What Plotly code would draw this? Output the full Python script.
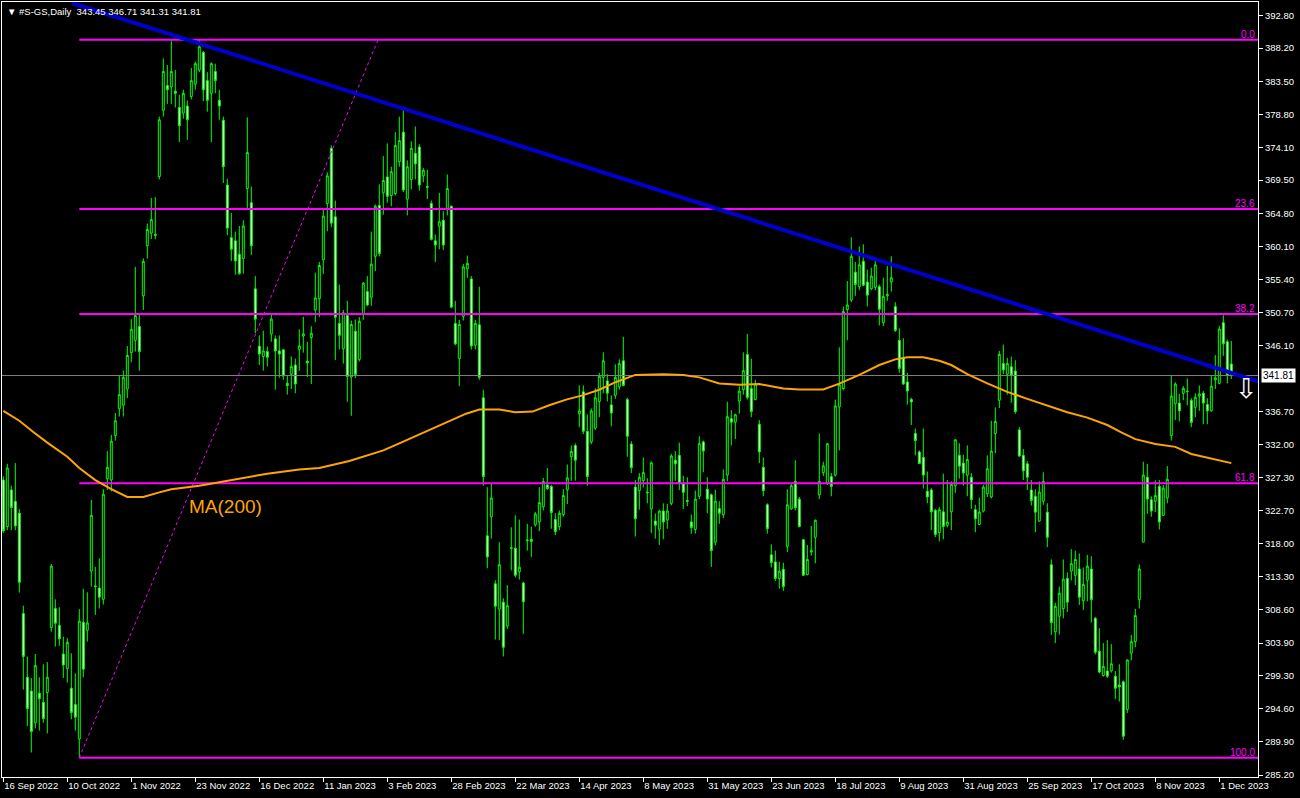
import plotly.graph_objects as go

# ---------------- data ----------------
open_ = [327.0, 320.4, 325.6, 324.0, 322.3, 308.1, 299.05, 297.1, 292.6, 296.8,
         295.5, 296.9, 306.1, 308.8, 306.4, 302.35, 300.3, 297.5, 295.2, 290.3,
         306.85, 305.7, 314.1, 312.0, 311.7, 310.1, 327.2, 327.0, 333.3, 337.1,
         337.6, 339.9, 345.05, 346.8, 348.75, 353.1, 360.2, 362.0, 361.8, 370.0,
         379.4, 382.9, 382.7, 382.1, 379.8, 379.0, 380.0, 381.35, 383.1, 385.1,
         387.6, 383.6, 381.8, 384.9, 380.8, 378.0, 368.8, 361.35, 360.9, 359.0,
         358.4, 368.3, 366.3, 354.1, 345.97, 344.5, 345.2, 347.7, 347.0, 345.3,
         345.45, 340.7, 342.0, 343.3, 345.5, 347.4, 343.85, 347.2, 351.1, 352.7,
         358.2, 366.2, 374.0, 364.3, 349.2, 345.6, 350.3, 341.6, 348.1, 344.1,
         350.5, 353.7, 352.9, 358.7, 365.9, 367.7, 369.95, 367.3, 367.6, 372.1,
         376.3, 366.8, 369.6, 373.3, 374.2, 370.1, 368.6, 366.2, 360.9, 362.96,
         363.8, 365.5, 365.8, 349.2, 344.2, 350.2, 356.9, 355.5, 346.1, 349.0,
         338.66, 319.1, 321.8, 312.3, 308.7, 309.7, 306.3, 317.3, 317.35, 314.0,
         312.4, 318.4, 318.6, 320.65, 321.05, 323.2, 326.3, 326.1, 321.4, 320.4,
         322.1, 325.6, 330.3, 331.9, 336.4, 339.5, 333.9, 332.4, 334.35, 338.15,
         341.55, 341.05, 337.65, 339.0, 340.2, 343.9, 338.4, 332.1, 326.0, 325.5,
         326.9, 325.3, 322.9, 321.2, 320.04, 322.6, 321.34, 323.7, 329.8, 330.5,
         326.56, 324.1, 321.06, 320.0, 324.7, 332.4, 325.7, 324.9, 318.2, 322.95,
         322.1, 327.7, 335.7, 335.2, 338.2, 339.8, 344.8, 339.97, 338.4, 334.9,
         328.8, 323.5, 316.4, 315.4, 313.05, 314.36, 317.6, 322.9, 326.8, 324.3,
         318.55, 313.6, 316.8, 318.9, 324.9, 328.05, 326.56, 327.5, 327.7, 337.36,
         339.97, 351.15, 352.5, 356.45, 354.4, 358.0, 355.06, 354.1, 354.3, 354.4,
         349.3, 353.1, 355.06, 351.6, 346.8, 344.3, 340.9, 338.43, 333.6, 330.98,
         330.2, 325.4, 325.6, 322.7, 319.57, 322.5, 320.6, 322.5, 326.2, 330.5,
         329.4, 327.7, 327.4, 322.8, 320.7, 322.6, 325.06, 324.6, 333.6, 338.3,
         343.5, 341.99, 343.05, 342.45, 334.1, 330.5, 329.3, 325.6, 324.7, 321.2,
         324.0, 322.45, 315.0, 305.5, 307.7, 308.78, 313.06, 314.1, 313.5, 314.4,
         309.9, 312.8, 314.4, 307.4, 302.74, 299.3, 299.95, 299.95, 299.2, 297.95,
         298.4, 294.5, 302.45, 304.1, 310.04, 318.2, 327.4, 324.2, 324.0, 326.1,
         322.0, 324.45, 333.3, 337.8, 337.9, 339.3, 339.6, 338.3, 337.3, 338.9,
         339.3, 337.7, 336.8, 341.2, 340.7, 349.3, 346.6, 343.45]

high = [327.5, 329.3, 326.2, 329.4, 322.9, 309.2, 302.0, 298.95, 302.35, 299.05,
        300.9, 301.2, 315.1, 310.1, 308.97, 304.8, 304.6, 302.45, 299.6, 308.7,
        311.6, 311.1, 324.2, 314.7, 315.9, 325.7, 331.1, 333.4, 336.5, 341.75,
        342.5, 346.0, 349.8, 357.2, 350.6, 358.4, 363.35, 366.96, 367.1, 378.5,
        386.76, 385.8, 389.3, 385.1, 381.6, 382.3, 380.8, 385.4, 386.3, 389.3,
        387.8, 384.8, 386.2, 386.0, 382.3, 378.5, 369.7, 364.85, 362.2, 363.0,
        363.8, 378.4, 368.6, 355.9, 347.5, 348.15, 345.9, 350.6, 347.5, 347.5,
        345.5, 341.75, 344.5, 344.2, 348.35, 350.15, 346.6, 348.8, 356.4, 357.9,
        365.5, 370.6, 374.4, 366.6, 354.7, 351.1, 352.4, 349.6, 349.75, 350.1,
        355.05, 355.9, 362.2, 366.05, 368.9, 372.9, 374.7, 371.4, 376.3, 378.5,
        379.4, 372.3, 375.0, 377.1, 374.6, 371.2, 370.97, 366.6, 361.8, 367.7,
        365.1, 370.3, 365.9, 352.4, 349.7, 357.6, 358.8, 355.9, 349.7, 354.4,
        339.8, 326.0, 326.5, 312.8, 318.2, 310.25, 312.1, 320.3, 322.0, 321.4,
        312.6, 320.8, 320.4, 322.5, 326.0, 327.3, 328.7, 326.3, 322.3, 322.7,
        325.7, 329.2, 331.9, 332.2, 340.4, 340.4, 336.3, 337.15, 340.0, 342.2,
        345.1, 342.0, 339.0, 343.4, 344.1, 347.3, 338.66, 332.5, 327.0, 328.0,
        330.2, 327.25, 329.6, 322.25, 322.8, 323.7, 323.6, 330.7, 331.1, 332.3,
        327.6, 327.4, 322.1, 325.5, 333.2, 332.6, 327.4, 325.1, 325.6, 324.0,
        328.5, 338.1, 336.9, 336.4, 340.3, 345.1, 347.7, 344.2, 341.2, 335.5,
        330.2, 323.7, 317.9, 317.0, 315.4, 315.3, 325.7, 326.56, 329.8, 324.6,
        318.65, 317.8, 320.5, 321.4, 333.6, 329.6, 332.25, 328.0, 338.4, 345.8,
        351.6, 355.2, 361.4, 357.9, 360.1, 360.4, 356.8, 357.1, 358.1, 354.7,
        355.66, 357.35, 358.7, 352.2, 348.5, 347.1, 342.2, 338.66, 334.3, 331.2,
        334.3, 328.2, 325.85, 322.9, 323.2, 327.9, 327.0, 326.8, 332.8, 332.2,
        330.6, 331.9, 328.0, 323.5, 324.5, 326.3, 330.5, 335.4, 337.3, 345.3,
        346.2, 344.3, 344.5, 343.97, 334.5, 331.4, 329.7, 327.0, 325.7, 326.8,
        328.1, 323.7, 315.75, 309.6, 311.9, 315.75, 313.9, 317.2, 317.0, 316.6,
        314.6, 316.4, 316.2, 307.6, 306.0, 303.9, 304.3, 303.75, 299.95, 300.9,
        298.6, 301.6, 305.05, 308.75, 315.05, 329.6, 329.3, 324.7, 326.96, 327.0,
        326.3, 328.97, 341.8, 340.85, 339.2, 340.3, 341.4, 338.6, 339.3, 340.4,
        339.6, 338.6, 341.8, 344.7, 348.85, 350.35, 346.9, 346.71]

low = [319.5, 319.9, 319.9, 319.9, 311.05, 297.3, 292.15, 288.4, 291.8, 291.5,
       292.6, 291.1, 305.5, 303.4, 303.5, 298.95, 298.3, 293.1, 291.5, 287.66,
       299.05, 304.1, 311.9, 307.9, 308.8, 309.35, 325.6, 325.4, 332.6, 336.0,
       336.0, 338.6, 343.7, 345.2, 342.5, 351.1, 358.4, 361.15, 361.15, 369.6,
       378.5, 380.3, 380.3, 379.8, 374.9, 378.2, 375.2, 380.95, 382.3, 384.8,
       380.7, 379.2, 374.9, 381.8, 378.05, 369.1, 361.7, 358.05, 356.1, 356.1,
       356.25, 365.3, 358.9, 347.8, 343.3, 342.5, 343.1, 346.6, 339.8, 341.5,
       341.2, 339.1, 339.9, 339.3, 342.5, 345.05, 341.6, 340.6, 349.4, 350.1,
       356.2, 362.25, 362.8, 344.0, 345.5, 343.5, 338.1, 336.1, 341.45, 343.8,
       349.7, 351.65, 351.7, 356.6, 358.7, 364.6, 366.3, 365.8, 367.3, 371.4,
       367.8, 364.5, 368.2, 369.6, 368.0, 369.2, 366.8, 360.95, 357.9, 359.7,
       359.6, 364.5, 351.35, 346.1, 340.3, 349.6, 355.65, 345.5, 345.5, 341.2,
       326.2, 314.5, 318.7, 304.4, 304.3, 302.0, 305.9, 314.2, 313.2, 312.9,
       305.2, 317.0, 316.1, 320.4, 319.75, 322.7, 325.6, 320.1, 319.2, 319.9,
       321.8, 323.6, 326.9, 326.9, 334.5, 333.5, 326.2, 332.1, 334.1, 335.9,
       339.3, 338.15, 334.6, 338.5, 339.8, 340.3, 330.3, 328.0, 319.0, 322.8,
       325.95, 323.7, 319.5, 318.7, 317.8, 318.6, 320.1, 323.4, 326.9, 325.6,
       322.9, 323.3, 319.4, 319.4, 324.3, 328.1, 322.3, 314.7, 317.7, 320.8,
       321.6, 326.8, 331.9, 332.8, 336.4, 339.1, 338.4, 335.9, 338.3, 329.4,
       324.7, 319.4, 314.6, 312.7, 311.6, 311.3, 316.8, 322.8, 322.7, 320.3,
       313.4, 313.5, 316.3, 315.2, 324.3, 327.6, 326.3, 324.7, 327.5, 331.2,
       339.7, 346.8, 352.2, 353.1, 353.9, 354.5, 351.6, 353.9, 353.9, 348.9,
       348.8, 352.4, 353.7, 348.0, 342.2, 340.5, 337.7, 334.8, 330.5, 329.25,
       325.8, 323.7, 319.9, 318.9, 318.3, 318.6, 320.3, 319.9, 325.2, 327.2,
       326.2, 324.7, 322.9, 319.6, 320.6, 322.4, 324.6, 324.4, 330.8, 337.2,
       342.0, 339.1, 337.95, 336.4, 330.3, 327.0, 325.6, 323.4, 319.6, 321.1,
       323.5, 317.5, 305.05, 303.9, 305.1, 307.4, 308.3, 312.8, 312.1, 309.3,
       308.6, 309.8, 306.8, 302.3, 299.6, 299.15, 298.95, 299.7, 295.95, 295.6,
       290.2, 294.0, 301.45, 303.3, 308.8, 318.2, 322.2, 321.8, 322.45, 320.0,
       321.9, 323.7, 332.6, 335.5, 335.3, 338.3, 337.6, 334.5, 335.9, 336.8,
       334.9, 334.9, 336.7, 339.9, 340.55, 344.6, 340.7, 341.31]

close = [319.8, 328.7, 323.1, 320.5, 312.5, 302.0, 294.6, 291.35, 300.7, 296.0,
         293.2, 299.05, 314.8, 306.7, 304.5, 300.8, 304.0, 294.05, 293.4, 307.0,
         300.2, 306.75, 322.0, 311.9, 310.4, 325.0, 328.8, 332.5, 335.4, 339.1,
         341.55, 344.65, 348.35, 350.3, 345.2, 358.0, 362.5, 363.9, 361.7, 378.05,
         384.9, 382.3, 384.9, 381.8, 377.2, 381.8, 378.05, 383.6, 386.0, 388.4,
         382.3, 380.8, 386.0, 383.6, 380.0, 371.4, 362.7, 359.7, 358.05, 356.25,
         363.0, 373.4, 360.2, 349.8, 344.85, 345.3, 344.4, 349.8, 345.3, 344.85,
         341.75, 340.4, 343.1, 340.6, 346.0, 347.7, 343.6, 347.8, 352.8, 357.4,
         364.4, 370.1, 363.4, 350.07, 347.5, 350.7, 341.7, 349.05, 341.95, 349.5,
         354.9, 351.8, 357.6, 365.8, 359.1, 369.45, 367.2, 370.7, 374.4, 375.1,
         368.1, 371.4, 374.0, 371.8, 368.8, 370.9, 368.5, 361.1, 360.3, 363.6,
         360.3, 368.3, 351.5, 346.3, 349.05, 357.2, 357.7, 346.0, 349.2, 341.55,
         327.5, 316.1, 324.45, 309.1, 315.0, 303.3, 309.2, 317.4, 313.5, 314.65,
         309.75, 318.5, 318.3, 322.2, 323.8, 326.8, 325.8, 322.4, 319.7, 322.3,
         324.8, 327.3, 331.05, 329.8, 336.8, 333.9, 327.5, 336.8, 338.66, 341.7,
         343.9, 339.3, 336.5, 341.55, 343.5, 340.4, 333.2, 328.75, 321.5, 327.4,
         328.05, 325.2, 329.45, 320.6, 322.6, 321.06, 322.6, 330.4, 329.3, 326.56,
         325.25, 324.0, 320.27, 324.3, 332.15, 331.1, 324.3, 317.0, 324.0, 322.3,
         327.1, 335.97, 335.2, 336.25, 339.6, 342.5, 338.7, 336.7, 340.6, 330.98,
         325.5, 320.1, 315.3, 313.05, 314.1, 311.9, 323.5, 326.2, 323.07, 320.4,
         313.5, 315.75, 317.0, 321.3, 326.8, 329.0, 332.15, 326.1, 337.5, 340.5,
         350.87, 351.8, 358.7, 354.7, 357.5, 354.6, 353.2, 355.9, 357.5, 351.2,
         353.0, 353.3, 355.66, 348.2, 342.8, 340.6, 339.6, 338.06, 332.6, 329.35,
         327.7, 324.6, 322.5, 319.3, 322.8, 320.4, 321.06, 326.4, 332.7, 328.97,
         328.0, 329.9, 324.2, 321.5, 322.45, 326.0, 328.6, 331.1, 335.3, 344.8,
         342.6, 343.5, 341.9, 336.7, 330.4, 328.3, 327.4, 324.1, 322.45, 325.3,
         326.8, 318.9, 306.8, 309.1, 310.97, 312.96, 309.7, 315.15, 315.75, 310.4,
         312.2, 314.8, 310.04, 302.6, 299.8, 300.6, 299.2, 300.97, 297.5, 297.7,
         290.7, 301.5, 304.1, 307.8, 314.4, 327.7, 324.3, 322.6, 324.8, 321.06,
         325.85, 327.1, 338.9, 340.6, 336.8, 340.0, 339.55, 335.15, 338.73, 339.2,
         337.9, 336.8, 340.3, 341.5, 348.4, 346.3, 341.9, 341.81]

bars = list(range(len(close)))

# MA(200) read at sample bars
ma_x = [0, 4, 7.5, 11, 16, 19, 23, 27, 31, 35, 39, 42, 49, 57.5, 66, 74, 79,
        86.5, 95, 99, 103, 107.3, 111.5, 115.7, 119, 124, 128, 132.3, 136.5,
        140.7, 144.8, 149, 153.2, 158, 165, 170, 174, 179, 184, 189, 195, 199,
        205, 209, 214, 219, 223, 226, 230, 234, 237, 241, 246, 251, 256, 261,
        266, 271, 276, 279.5, 283, 288, 293, 297, 302, 307]
ma_v = [336.8, 335.4, 333.8, 332.3, 330.3, 328.7, 327.0, 325.7, 324.6, 324.6,
        325.25, 325.7, 326.2, 327.0, 327.9, 328.5, 328.7, 329.7, 331.2, 332.2,
        333.2, 334.2, 335.26, 336.4, 337.0, 337.0, 336.6, 336.7, 337.6, 338.4,
        339.0, 339.8, 340.9, 341.9, 342.0, 341.9, 341.55, 340.67, 340.5, 340.6,
        339.97, 339.83, 339.83, 340.67, 341.9, 343.3, 344.1, 344.4, 344.4,
        343.9, 343.3, 342.0, 340.7, 339.5, 338.5, 337.6, 336.6, 335.85, 334.8,
        333.75, 332.8, 332.1, 331.7, 330.7, 330.0, 329.4]

date_idx = [0, 16, 32, 48, 64, 80, 96, 112, 128, 144, 160, 176, 192, 208,
            224, 240, 256, 272, 288, 304]
date_lbl = ["16 Sep 2022", "10 Oct 2022", "1 Nov 2022", "23 Nov 2022",
            "16 Dec 2022", "11 Jan 2023", "3 Feb 2023", "28 Feb 2023",
            "22 Mar 2023", "14 Apr 2023", "8 May 2023", "31 May 2023",
            "23 Jun 2023", "18 Jul 2023", "9 Aug 2023", "31 Aug 2023",
            "25 Sep 2023", "17 Oct 2023", "8 Nov 2023", "1 Dec 2023"]

# 341.40 sits under the current-price box in the reference, so it is not shown
price_ticks = [392.80, 388.20, 383.50, 378.80, 374.10, 369.50, 364.80, 360.10,
               355.40, 350.70, 346.10, 336.70, 332.00, 327.30, 322.70,
               318.00, 313.30, 308.60, 303.90, 299.30, 294.60, 289.90, 285.20]

fib_levels = [389.40, 365.39, 350.54, 326.53, 287.66]
fib_names = ["0.0", "23.6", "38.2", "61.8", "100.0"]
fib_from_bar = 19
fib_diag_x = [19, 93.7]
fib_diag_y = [287.66, 389.40]

trend_x = [17.2, 314.2]
trend_y = [394.6, 340.9]

last_price = 341.81
header = "▼ #S-GS,Daily  343.45 346.71 341.31 341.81"

X_RANGE = [-0.325, 313.675]
Y_RANGE = [284.92, 394.74]

FONT = "Liberation Sans, Arial, sans-serif"
MAG = "#ff00ff"

fig = go.Figure()

# fibo horizontal levels
for lv in fib_levels:
    fig.add_trace(go.Scatter(x=[fib_from_bar, X_RANGE[1] + 5], y=[lv, lv],
                             mode="lines", line=dict(color=MAG, width=2),
                             hoverinfo="skip", showlegend=False))
# fibo diagonal
fig.add_trace(go.Scatter(x=fib_diag_x, y=fib_diag_y, mode="lines",
                         line=dict(color=MAG, width=1, dash="dot"),
                         hoverinfo="skip", showlegend=False))
# current price line
fig.add_trace(go.Scatter(x=[X_RANGE[0] - 5, X_RANGE[1] + 5], y=[last_price, last_price],
                         mode="lines", line=dict(color="#808080", width=1),
                         hoverinfo="skip", showlegend=False))
# MA(200)
fig.add_trace(go.Scatter(x=ma_x, y=ma_v, mode="lines",
                         line=dict(color="#ffa500", width=2),
                         hoverinfo="skip", showlegend=False))
# candles
fig.add_trace(go.Candlestick(
    x=bars, open=open_, high=high, low=low, close=close,
    increasing=dict(line=dict(color="#00ff00", width=1), fillcolor="#000000"),
    decreasing=dict(line=dict(color="#00ff00", width=1), fillcolor="#ffffff"),
    whiskerwidth=0, showlegend=False, hoverinfo="skip"))
# trend line
fig.add_trace(go.Scatter(x=trend_x, y=trend_y, mode="lines",
                         line=dict(color="#0000cd", width=4),
                         hoverinfo="skip", showlegend=False))

ann = []
ann.append(dict(xref="paper", yref="paper", x=0, y=1, xanchor="left", yanchor="top",
                xshift=3, yshift=-2, text=header, showarrow=False,
                font=dict(family=FONT, size=9.5, color="#ffffff")))
ann.append(dict(xref="x", yref="y", x=45.9, y=323.3, xanchor="left", yanchor="middle",
                text="MA(200)", showarrow=False,
                font=dict(family=FONT, size=19, color="#ffa500")))
for lv, nm in zip(fib_levels, fib_names):
    ann.append(dict(xref="paper", yref="y", x=1, y=lv, xanchor="right", yanchor="bottom",
                    xshift=-1, yshift=-2, text=nm, showarrow=False,
                    font=dict(family=FONT, size=10, color=MAG)))
ann.append(dict(xref="paper", yref="y", x=1, y=last_price, xanchor="left", yanchor="middle",
                xshift=3, text=f"{last_price:.2f}", showarrow=False, bgcolor="#ffffff",
                borderpad=1, font=dict(family=FONT, size=10, color="#000000")))
ann.append(dict(xref="x", yref="y", x=310.9, y=340.0, xanchor="center", yanchor="middle",
                text="⇩", showarrow=False,
                font=dict(family="DejaVu Sans", size=27, color="#ffffff")))

fig.update_layout(
    width=1300, height=798,
    margin=dict(l=2, r=42, t=2, b=21),
    paper_bgcolor="#000000", plot_bgcolor="#000000",
    showlegend=False, hovermode=False,
    annotations=ann,
    xaxis=dict(range=X_RANGE, tickmode="array", tickvals=date_idx, ticktext=date_lbl,
               ticks="outside", ticklen=4, tickcolor="#ffffff",
               ticklabelposition="outside right",
               tickfont=dict(family=FONT, size=9.5, color="#ffffff"),
               showline=True, linecolor="#ffffff", linewidth=1, mirror=True,
               showgrid=False, zeroline=False, rangeslider=dict(visible=False),
               fixedrange=True),
    yaxis=dict(range=Y_RANGE, side="right", tickmode="array", tickvals=price_ticks,
               ticktext=[f"{v:.2f}" for v in price_ticks],
               ticks="outside", ticklen=4, tickcolor="#ffffff",
               tickfont=dict(family=FONT, size=9.5, color="#ffffff"),
               showline=True, linecolor="#ffffff", linewidth=1, mirror=True,
               showgrid=False, zeroline=False, fixedrange=True),
)

fig.write_html("out.html", config={"displayModeBar": False},
               post_script="document.body.style.margin='0px';"
                           "document.body.style.overflow='hidden';")
